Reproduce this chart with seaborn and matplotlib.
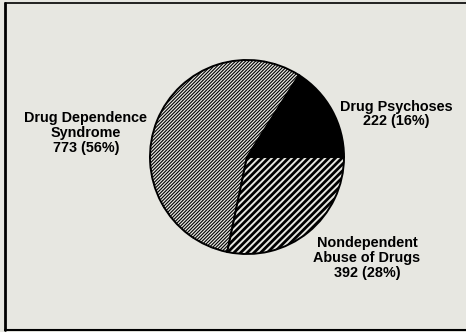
import matplotlib
matplotlib.use("Agg")
import matplotlib.pyplot as plt
import seaborn as sns
from matplotlib.lines import Line2D

# Data
categories = ["Drug Psychoses", "Drug Dependence\nSyndrome", "Nondependent\nAbuse of Drugs"]
counts = [222, 773, 392]
percents = [16, 56, 28]

sns.set_theme(style="white")
plt.rcParams['font.family'] = ['Liberation Sans', 'DejaVu Sans']
plt.rcParams['hatch.linewidth'] = 0.8

W, H = 466, 332
bg = "#e7e7e1"
fig = plt.figure(figsize=(W / 100, H / 100), dpi=100, facecolor=bg)
ax = fig.add_axes([0, 0, 1, 1])
ax.set_facecolor(bg)

cx, cy, r = 247, H - 157, 97
wedges, _ = ax.pie(
    counts, startangle=0, counterclock=True, center=(cx, cy), radius=r,
    colors=["black", bg, bg],
    wedgeprops=dict(edgecolor="black", linewidth=1.4),
    frame=True,
)
wedges[1].set_hatch("/" * 10)
wedges[2].set_hatch("/" * 5)
if hasattr(wedges[2], "set_hatch_linewidth"):
    wedges[1].set_hatch_linewidth(0.8)
    wedges[2].set_hatch_linewidth(2.0)
ax.set_xlim(0, W)
ax.set_ylim(0, H)
ax.set_aspect("equal")
ax.axis("off")

label_pos = [(396, H - 114), (86, H - 133), (367, H - 258)]
for cat, n, p, (x, y) in zip(categories, counts, percents, label_pos):
    ax.text(x, y, f"{cat}\n{n} ({p}%)", ha="center", va="center",
            fontsize=10.4, fontweight="bold", color="black", linespacing=1.05)

# frame border
fig.add_artist(Line2D([5 / W, 5 / W], [2 / H, 1 - 3 / H], transform=fig.transFigure, color="black", lw=2))
fig.add_artist(Line2D([5 / W, 1], [1 - 3 / H, 1 - 3 / H], transform=fig.transFigure, color="black", lw=1.2))
fig.add_artist(Line2D([5 / W, 1], [2 / H, 2 / H], transform=fig.transFigure, color="black", lw=1.5))

fig.savefig("out.png", dpi=100, facecolor=bg)
